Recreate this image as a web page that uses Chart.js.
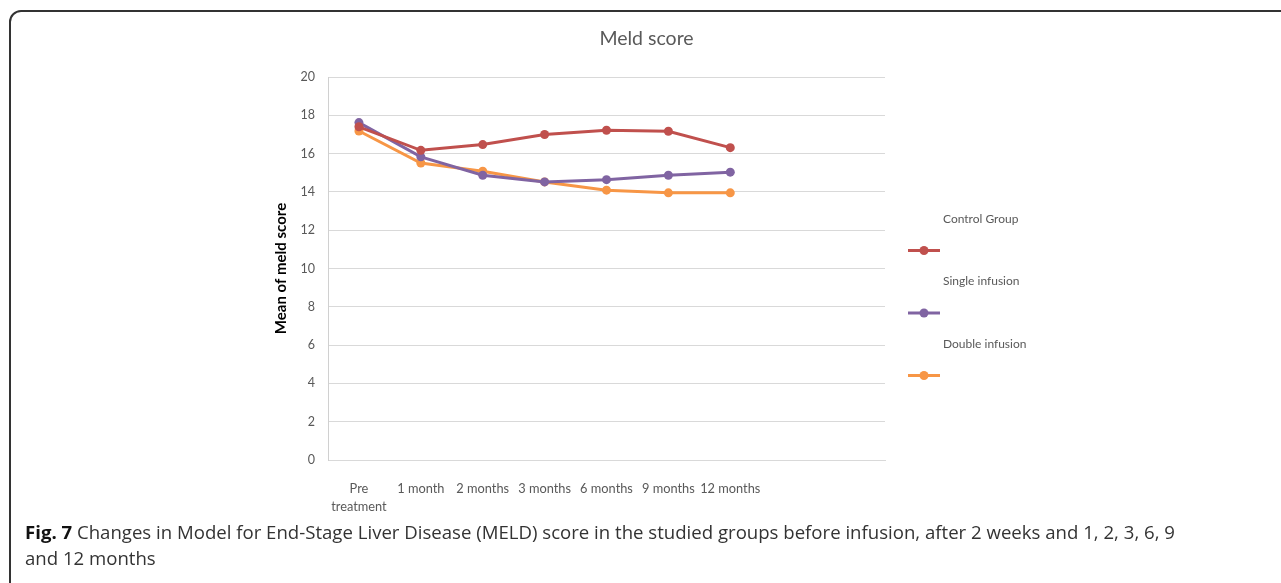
<!DOCTYPE html>
<html>
<head>
<meta charset="utf-8">
<script src="https://cdn.jsdelivr.net/npm/chart.js@4"></script>
<style>
  html, body { margin:0; padding:0; background:#fff; width:1281px; height:583px; overflow:hidden; }
  #frame { position:absolute; left:9px; top:10px; width:1400px; height:700px; border:2px solid #333; border-radius:12px; box-sizing:border-box; }
  #chartWrap { position:absolute; left:0; top:0; width:1281px; height:520px; }
  #caption { position:absolute; left:25px; top:519px; font-family:"Open Sans", sans-serif; font-size:18.6px; line-height:26px; color:#333; white-space:nowrap; }
  #caption b { font-weight:700; color:#111; }
</style>
</head>
<body>
<div id="frame"></div>
<div id="chartWrap"><canvas id="c" width="1281" height="520"></canvas></div>
<div id="caption"><b>Fig. 7</b> Changes in Model for End-Stage Liver Disease (MELD) score in the studied groups before infusion, after 2 weeks and 1, 2, 3, 6, 9<br>and 12 months</div>
<script>
const categories = [["Pre", "treatment"], "1 month", "2 months", "3 months", "6 months", "9 months", "12 months", "", ""];
const controlGroup = [17.4, 16.17, 16.47, 17.0, 17.22, 17.17, 16.31];
const singleInfusion = [17.62, 15.83, 14.87, 14.52, 14.64, 14.87, 15.03];
const doubleInfusion = [17.18, 15.51, 15.08, 14.52, 14.09, 13.95, 13.95];
const seriesNames = ["Control Group", "Single infusion", "Double infusion"];
const yTicks = { min: 0, max: 20, step: 2 };

const colors = ["#C0504D", "#8064A2", "#F79646"];
const fam = "Lato, 'Liberation Sans', sans-serif";
const tickFont = { family: fam, size: 12.8, lineHeight: 1.4 };
const grey = "#595959";

function ds(label, data, color) {
  return {
    label, data,
    borderColor: color, backgroundColor: color,
    pointBackgroundColor: color, pointBorderColor: color,
    borderWidth: 3, pointRadius: 4.5, pointBorderWidth: 0, pointHoverRadius: 4.5,
    tension: 0, yAxisID: 'y'
  };
}

const sideLegend = {
  id: 'sideLegend',
  afterDraw(chart) {
    const ctx = chart.ctx;
    ctx.save();
    chart.data.datasets.forEach((d, i) => {
      const ty = 219 + i * 62.5;
      ctx.fillStyle = grey;
      ctx.font = "12px " + fam;
      ctx.textAlign = 'left';
      ctx.textBaseline = 'middle';
      ctx.fillText(d.label, 943, ty);
      const ly = ty + 31.5;
      ctx.strokeStyle = d.borderColor;
      ctx.lineWidth = 3;
      ctx.beginPath(); ctx.moveTo(908, ly); ctx.lineTo(940, ly); ctx.stroke();
      ctx.fillStyle = d.borderColor;
      ctx.beginPath(); ctx.arc(924, ly, 4.5, 0, Math.PI * 2); ctx.fill();
    });
    ctx.restore();
  }
};

new Chart(document.getElementById('c'), {
  type: 'line',
  data: {
    labels: categories,
    datasets: [
      ds(seriesNames[0], controlGroup, colors[0]),
      ds(seriesNames[1], singleInfusion, colors[1]),
      ds(seriesNames[2], doubleInfusion, colors[2])
    ]
  },
  options: {
    responsive: false,
    devicePixelRatio: 1,
    animation: false,
    events: [],
    layout: { padding: { left: 12, right: 0, top: 0, bottom: 0 } },
    plugins: {
      legend: { display: false },
      tooltip: { enabled: false },
      title: {
        display: true,
        text: 'Meld score',
        color: grey,
        font: { family: fam, size: 19.5, weight: 'normal', lineHeight: 1.2 },
        padding: { top: 27, bottom: 26.6 }
      }
    },
    scales: {
      x: {
        offset: true,
        grid: { display: false, drawTicks: false },
        border: { display: true, color: '#d9d9d9', width: 1 },
        ticks: { color: grey, font: tickFont, padding: 20, maxRotation: 0, autoSkip: false },
        afterFit(s) { s.height = 60; }
      },
      y: {
        position: 'left',
        min: yTicks.min, max: yTicks.max,
        grid: { color: '#d9d9d9', lineWidth: 1, drawTicks: false },
        border: { display: true, color: '#d0d0d0', width: 1 },
        ticks: { stepSize: yTicks.step, color: grey, font: { family: fam, size: 12.5 }, padding: 13 },
        title: {
          display: true,
          text: 'Mean of meld score',
          color: '#000',
          font: { family: fam, size: 15, weight: 'bold', lineHeight: 1.2 },
          padding: { top: 260, bottom: 0 }
        },
        afterFit(s) { s.width = 316; }
      },
      yR: {
        position: 'right',
        display: true,
        grid: { display: false, drawTicks: false },
        border: { display: false },
        ticks: { display: false },
        afterFit(s) { s.width = 396; }
      }
    }
  },
  plugins: [sideLegend]
});
</script>
</body>
</html>
